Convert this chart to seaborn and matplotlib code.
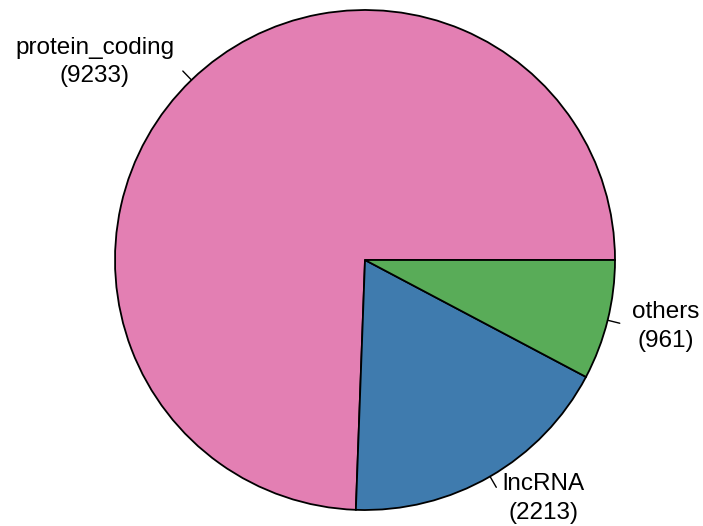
import numpy as np
import matplotlib
matplotlib.use("Agg")
import matplotlib.pyplot as plt
import seaborn as sns

categories = ["protein_coding", "lncRNA", "others"]
counts = [9233, 2213, 961]
colors = ["#E37FB3", "#3F7BAE", "#59AC58"]

sns.set_style("white")
plt.rcParams['font.family'] = ['Liberation Sans', 'DejaVu Sans']

W, H = 703, 526
fig = plt.figure(figsize=(W / 100, H / 100), dpi=100)
cx, cy, r = 365, 260, 250
ax = fig.add_axes([(cx - r) / W, (H - cy - r) / H, 2 * r / W, 2 * r / H])

wedges, _ = ax.pie(counts, colors=colors, startangle=0, counterclock=True,
                   wedgeprops=dict(edgecolor="black", linewidth=1.3))
for w in wedges:
    w.set_clip_on(False)

# R-style labels: small tick from the rim, text at 1.1 radius
for w, name, n in zip(wedges, categories, counts):
    mid = np.deg2rad((w.theta1 + w.theta2) / 2)
    x, y = np.cos(mid), np.sin(mid)
    ax.plot([x, 1.05 * x], [y, 1.05 * y], color="black", lw=1.0, clip_on=False)
    ax.text(1.1 * x, 1.1 * y, f"{name}\n({n})", ha="left" if x > 0 else "right",
            va="center", multialignment="center", fontsize=17.5, linespacing=1.4,
            color="black", clip_on=False)

ax.set_xlim(-1, 1)
ax.set_ylim(-1, 1)
ax.set_aspect("equal")
ax.axis("off")

fig.savefig("out.png", dpi=100)
